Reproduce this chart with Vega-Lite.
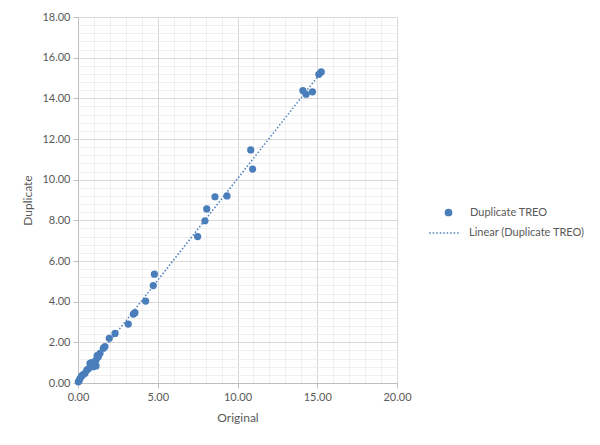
{
  "$schema": "https://vega.github.io/schema/vega-lite/v6.json",
  "autosize": "none",
  "width": 319,
  "height": 366,
  "padding": {"left": 78, "top": 17, "right": 203, "bottom": 62},
  "background": "white",
  "config": {
    "font": "Lato",
    "view": {"stroke": null},
    "axis": {"labelColor": "#595959", "titleColor": "#595959", "labelFontSize": 11, "titleFontSize": 12, "titleFontWeight": "normal", "domainColor": "#bfbfbf", "tickColor": "#bfbfbf", "labelFlush": false}
  },
  "data": {"values": [
    {"Original": 15.25, "Duplicate": 15.30},
    {"Original": 15.10, "Duplicate": 15.18},
    {"Original": 14.10, "Duplicate": 14.38},
    {"Original": 14.30, "Duplicate": 14.20},
    {"Original": 14.70, "Duplicate": 14.32},
    {"Original": 10.83, "Duplicate": 11.46},
    {"Original": 10.95, "Duplicate": 10.52},
    {"Original": 8.59, "Duplicate": 9.16},
    {"Original": 9.34, "Duplicate": 9.20},
    {"Original": 8.07, "Duplicate": 8.56},
    {"Original": 7.96, "Duplicate": 7.98},
    {"Original": 7.50, "Duplicate": 7.20},
    {"Original": 4.79, "Duplicate": 5.35},
    {"Original": 4.72, "Duplicate": 4.79},
    {"Original": 4.24, "Duplicate": 4.03},
    {"Original": 3.57, "Duplicate": 3.46},
    {"Original": 3.47, "Duplicate": 3.39},
    {"Original": 3.15, "Duplicate": 2.90},
    {"Original": 2.32, "Duplicate": 2.44},
    {"Original": 1.96, "Duplicate": 2.20},
    {"Original": 1.69, "Duplicate": 1.79},
    {"Original": 1.59, "Duplicate": 1.71},
    {"Original": 1.38, "Duplicate": 1.46},
    {"Original": 1.27, "Duplicate": 1.29},
    {"Original": 1.20, "Duplicate": 1.35},
    {"Original": 1.13, "Duplicate": 1.13},
    {"Original": 0.75, "Duplicate": 0.97},
    {"Original": 0.85, "Duplicate": 1.00},
    {"Original": 1.13, "Duplicate": 0.84},
    {"Original": 0.96, "Duplicate": 0.80},
    {"Original": 0.65, "Duplicate": 0.70},
    {"Original": 0.55, "Duplicate": 0.64},
    {"Original": 0.44, "Duplicate": 0.48},
    {"Original": 0.30, "Duplicate": 0.40},
    {"Original": 0.23, "Duplicate": 0.34},
    {"Original": 0.13, "Duplicate": 0.23},
    {"Original": 0.08, "Duplicate": 0.12},
    {"Original": 0.02, "Duplicate": 0.06}
  ]},
  "layer": [
    {
      "mark": {"type": "circle", "size": 52, "opacity": 1},
      "encoding": {
        "x": {"field": "Original", "type": "quantitative",
          "scale": {"domain": [0, 20], "nice": false, "zero": true},
          "axis": {
            "title": "Original", "titlePadding": 10,
            "values": [0,1,2,3,4,5,6,7,8,9,10,11,12,13,14,15,16,17,18,19,20],
            "tickCount": 100,
            "labelExpr": "datum.value % 5 === 0 ? format(datum.value, '.2f') : ''",
            "labelOverlap": false,
            "labelFlush": false,
            "grid": true,
            "gridColor": {"condition": {"test": "datum.value % 5 === 0", "value": "#d9d9d9"}, "value": "#efefef"},
            "tickOpacity": {"condition": {"test": "datum.value % 5 === 0", "value": 1}, "value": 0},
            "tickSize": 5, "labelPadding": 3
          }},
        "y": {"field": "Duplicate", "type": "quantitative",
          "scale": {"domain": [0, 18], "nice": false, "zero": true},
          "axis": {
            "title": "Duplicate", "titlePadding": 7,
            "values": [0,0.4,0.8,1.2,1.6,2,2.4,2.8,3.2,3.6,4,4.4,4.8,5.2,5.6,6,6.4,6.8,7.2,7.6,8,8.4,8.8,9.2,9.6,10,10.4,10.8,11.2,11.6,12,12.4,12.8,13.2,13.6,14,14.4,14.8,15.2,15.6,16,16.4,16.8,17.2,17.6,18],
            "tickCount": 100,
            "labelOverlap": false,
            "labelFlush": false,
            "labelExpr": "abs(datum.value/2 - round(datum.value/2)) < 0.001 ? format(datum.value, '.2f') : ''",
            "grid": true,
            "gridColor": {"condition": {"test": "abs(datum.value/2 - round(datum.value/2)) < 0.001", "value": "#d9d9d9"}, "value": "#efefef"},
            "tickOpacity": {"condition": {"test": "abs(datum.value/2 - round(datum.value/2)) < 0.001", "value": 1}, "value": 0},
            "tickSize": 5, "labelPadding": 3
          }},
        "color": {"datum": "Duplicate TREO", "type": "nominal",
          "scale": {"range": ["#4a7ebb"]},
          "legend": {"title": null, "orient": "none", "legendX": 365, "legendY": 190, "symbolType": "circle", "symbolSize": 60, "labelFontSize": 11, "labelColor": "#595959", "labelOffset": 16, "symbolOpacity": 1}}
      }
    },
    {
      "transform": [{"regression": "Duplicate", "on": "Original"}],
      "mark": {"type": "line", "color": "#4a7ebb", "strokeWidth": 1.5},
      "encoding": {
        "x": {"field": "Original", "type": "quantitative"},
        "y": {"field": "Duplicate", "type": "quantitative"},
        "strokeDash": {"datum": "Linear (Duplicate TREO)", "type": "nominal",
          "scale": {"range": [[1.5, 2]]},
          "legend": {"title": null, "orient": "none", "legendX": 350, "legendY": 199, "symbolType": "stroke", "symbolStrokeColor": "#4a7ebb", "symbolStrokeWidth": 1.5, "symbolSize": 1000, "labelFontSize": 11, "labelColor": "#595959", "labelOffset": 7}}
      }
    }
  ]
}
